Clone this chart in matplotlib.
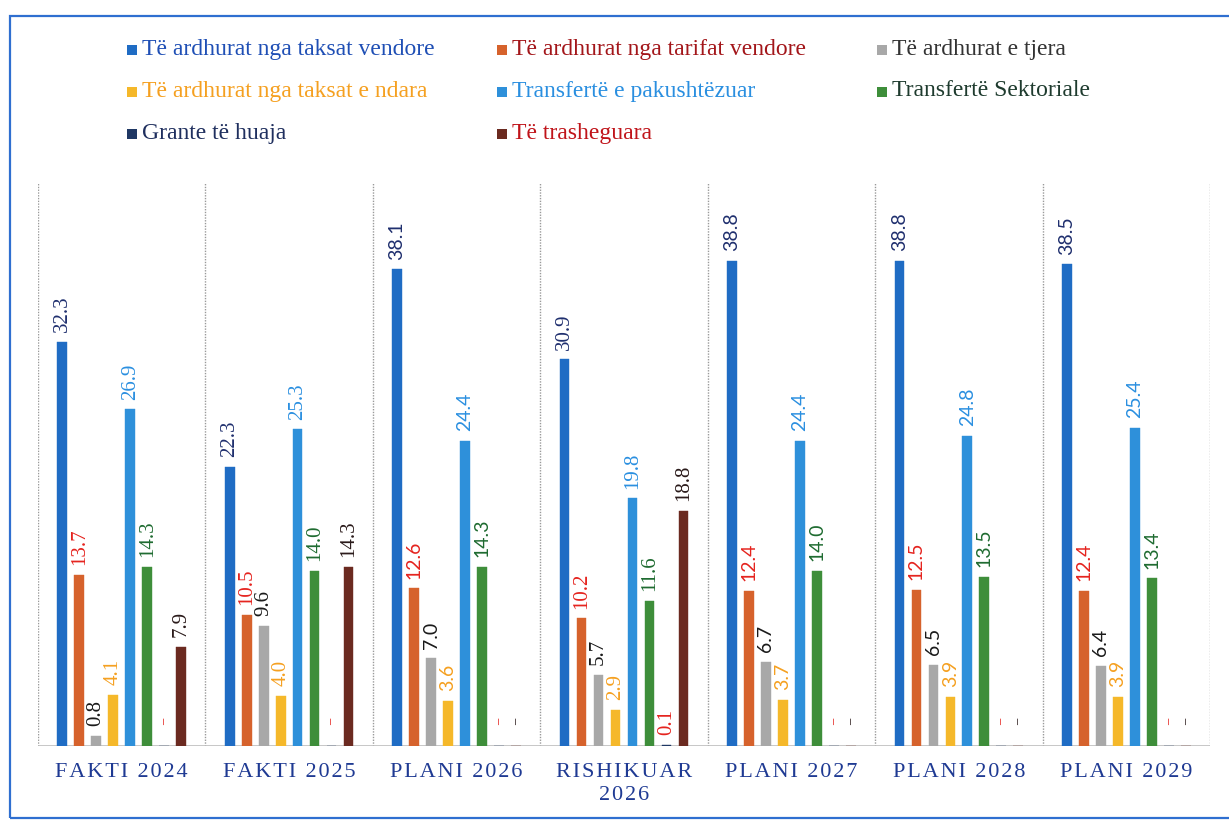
import matplotlib
matplotlib.use("Agg")
import matplotlib.pyplot as plt
from matplotlib.patches import Rectangle
import numpy as np

# ---------------- data ----------------
categories = ["FAKTI 2024", "FAKTI 2025", "PLANI 2026", "RISHIKUAR\n2026",
              "PLANI 2027", "PLANI 2028", "PLANI 2029"]

series_names = [
    "Të ardhurat nga taksat vendore",
    "Të ardhurat nga tarifat vendore",
    "Të ardhurat e tjera",
    "Të ardhurat nga taksat e ndara",
    "Transfertë e pakushtëzuar",
    "Transfertë Sektoriale",
    "Grante të huaja",
    "Të trasheguara",
]

taksat_vendore = [32.3, 22.3, 38.1, 30.9, 38.8, 38.8, 38.5]
tarifat_vendore = [13.7, 10.5, 12.6, 10.2, 12.4, 12.5, 12.4]
ardhurat_tjera = [0.8, 9.6, 7.0, 5.7, 6.7, 6.5, 6.4]
taksat_ndara = [4.1, 4.0, 3.6, 2.9, 3.7, 3.9, 3.9]
transf_pakusht = [26.9, 25.3, 24.4, 19.8, 24.4, 24.8, 25.4]
transf_sektoriale = [14.3, 14.0, 14.3, 11.6, 14.0, 13.5, 13.4]
grante_huaja = [0.0, 0.0, 0.0, 0.1, 0.0, 0.0, 0.0]
trasheguara = [7.9, 14.3, 0.0, 18.8, 0.0, 0.0, 0.0]

all_series = [taksat_vendore, tarifat_vendore, ardhurat_tjera, taksat_ndara,
              transf_pakusht, transf_sektoriale, grante_huaja, trasheguara]

# ---------------- styles ----------------
bar_colors = ["#1F6CC4", "#D6622C", "#A8A8A8", "#F5B82A",
              "#2E90DA", "#3E8E3A", "#1F3864", "#6B2A20"]
label_colors = ["#1F2F6E", "#E5231E", "#1A1A1A", "#F5A020",
                "#2A8FE0", "#1E6B30", "#E5231E", "#2A1A1A"]
legend_text_colors = ["#1F4FB5", "#A3161A", "#333333", "#F5A020",
                      "#2A8FE0", "#1E3B2E", "#1F2F5E", "#C0141A"]
group_label_fonts = ["Liberation Serif", "Liberation Serif", "Lato",
                     "Liberation Serif", "Lato", "Lato", "Lato"]

W, H = 1229, 823
fig = plt.figure(figsize=(W / 100, H / 100), dpi=100)
fig.patch.set_facecolor("white")

# axes placement (pixels)
ax_left, ax_right, ax_bottom, ax_top = 38, 1210, 746, 183
ax = fig.add_axes([ax_left / W, (H - ax_bottom) / H,
                   (ax_right - ax_left) / W, (ax_bottom - ax_top) / H])

n = len(all_series)
x = np.arange(len(categories))
pitch = 0.1015
width = 0.058
offsets = (np.arange(n) - (n - 1) / 2) * pitch

for i, vals in enumerate(all_series):
    bars = ax.bar(x + offsets[i], vals, width=width, color=bar_colors[i],
                  edgecolor=bar_colors[i], linewidth=0.3, zorder=3)
    labels = ["\u2013" if v == 0 else f"{v:.1f}" for v in vals]
    anns = ax.bar_label(bars, labels=labels, rotation=90, padding=7,
                        color=label_colors[i], fontsize=15)
    for j, a in enumerate(anns):
        a.set_fontfamily(group_label_fonts[j])
        if group_label_fonts[j] == "Lato":
            a.set_fontsize(14)
        if a.get_text() == "\u2013":
            a.xyann = (0, 15)
            a.set_fontfamily("Liberation Serif")
            a.set_fontsize(9)
            a.set_fontweight("bold")

ax.set_xlim(-0.5, len(categories) - 0.5)
ax.set_ylim(0, 45)

# vertical dotted separators
for b in np.arange(-0.5, len(categories), 1.0):
    ax.axvline(b, color="#9A9A9A", linestyle=(0, (1, 1)), linewidth=1.0, zorder=1)
ax.axhline(0, color="#BDBDBD", linewidth=1.2, zorder=2)

for s in ax.spines.values():
    s.set_visible(False)
ax.set_yticks([])


def spaced(s):
    return "\n".join("\u200a".join(list(line)) for line in s.split("\n"))


ax.set_xticks(x)
ax.set_xticklabels([spaced(c) for c in categories],
                   fontfamily=["Liberation Serif", "DejaVu Serif"],
                   fontsize=16, color="#1F3A93", linespacing=1.3)
ax.tick_params(axis="x", length=0, pad=12)

# ---------------- legend (manual, 3 columns) ----------------
col_marker_x = [127, 497, 877]
row_y = [49, 91, 133]
msize = 10
for i, name in enumerate(series_names):
    r, c = divmod(i, 3)
    mx = col_marker_x[c]
    my = row_y[r]
    fig.patches.append(Rectangle((mx / W, (H - my - msize / 2 - 1) / H),
                                 msize / W, msize / H, transform=fig.transFigure,
                                 facecolor=bar_colors[i], edgecolor="none"))
    fig.text((mx + msize + 5) / W, (H - my) / H, name, ha="left", va="center",
             fontfamily="Liberation Serif", fontsize=17,
             color=legend_text_colors[i])

# ---------------- blue frame ----------------
fig.patches.append(Rectangle((10 / W, (H - 818) / H), 1.05, (818 - 16) / H,
                             transform=fig.transFigure, fill=False,
                             edgecolor="#2F6FD0", linewidth=1.6))

fig.savefig("out.png", dpi=100, facecolor="white")
